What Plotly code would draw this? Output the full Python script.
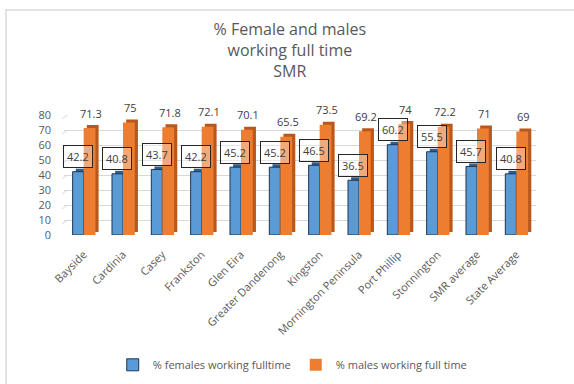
import plotly.graph_objects as go

# Council areas and full-time employment shares (%)
areas = ["Bayside", "Cardinia", "Casey", "Frankston", "Glen Eira",
         "Greater Dandenong", "Kingston", "Mornington Peninsula",
         "Port Phillip", "Stonnington", "SMR average", "State Average"]
females = [42.2, 40.8, 43.7, 42.2, 45.2, 45.2, 46.5, 36.5, 60.2, 55.5, 45.7, 40.8]
males = [71.3, 75, 71.8, 72.1, 70.1, 65.5, 73.5, 69.2, 74, 72.2, 71, 69]
y_ticks = [0, 10, 20, 30, 40, 50, 60, 70, 80]

FONT = "Open Sans"
GREY = "#595959"
BLUE, BLUE_DARK, BLUE_EDGE = "#5B9BD5", "#2E5F8F", "#1F3550"
ORANGE, ORANGE_DARK = "#ED7D31", "#B9581A"

xs = list(range(len(areas)))
w_f, off_f = 0.28, -0.28
w_m, off_m = 0.30, 0.0
dx, dy = 0.08, 2.0   # depth of the pseudo-3D side faces

fig = go.Figure()

# depth faces (drawn behind the fronts)
fig.add_trace(go.Bar(x=xs, y=females, base=dy, width=w_f, offset=off_f + dx,
                     marker=dict(color=BLUE_DARK, line=dict(width=0)),
                     showlegend=False, hoverinfo="skip"))
fig.add_trace(go.Bar(x=xs, y=males, base=dy, width=w_m, offset=off_m + dx,
                     marker=dict(color=ORANGE_DARK, line=dict(width=0)),
                     showlegend=False, hoverinfo="skip"))

# front faces
fig.add_trace(go.Bar(x=xs, y=females, width=w_f, offset=off_f,
                     name="% females working fulltime",
                     marker=dict(color=BLUE, line=dict(color=BLUE_EDGE, width=1))))
fig.add_trace(go.Bar(x=xs, y=males, width=w_m, offset=off_m,
                     name="% males working full time",
                     marker=dict(color=ORANGE, line=dict(width=0))))

annotations = []
for i, (f, m) in enumerate(zip(females, males)):
    annotations.append(dict(x=i + off_m + w_m / 2 + dx / 2, y=m, xref="x", yref="y",
                            text=f"{m:g}", showarrow=False, yshift=15,
                            font=dict(family=FONT, size=11, color="#404040")))
    annotations.append(dict(x=i + off_f + w_f / 2, y=f, xref="x", yref="y",
                            text=f"{f:g}", showarrow=False, yshift=15,
                            bordercolor="#262626", borderwidth=1, borderpad=3,
                            bgcolor="rgba(255,255,255,0.35)",
                            font=dict(family=FONT, size=11, color="#404040")))

# side-wall edges meeting the back-wall gridlines
shapes = []
for v in y_ticks:
    shapes.append(dict(type="line", xref="paper", yref="y", x0=-0.004, x1=0.008,
                       y0=v - 2.5, y1=v, line=dict(color="#D9D9D9", width=1)))
# chart frame (left and top edges visible)
shapes.append(dict(type="rect", xref="paper", yref="paper",
                   x0=(6 - 64) / 472, x1=(600 - 64) / 472,
                   y0=(235 - 420) / 120, y1=(235 - 10) / 120,
                   line=dict(color="#E3E3E3", width=2), layer="below"))

fig.update_layout(
    width=574, height=384,
    margin=dict(l=64, r=38, t=115, b=149),
    paper_bgcolor="white", plot_bgcolor="white",
    barmode="overlay",
    font=dict(family=FONT, color=GREY),
    title=dict(text="% Female and males<br>working full time<br>SMR",
               x=0.505, xref="container", xanchor="center",
               y=1 - 35 / 384, yref="container", yanchor="top",
               font=dict(family=FONT, size=16, color=GREY)),
    xaxis=dict(tickmode="array", tickvals=xs, ticktext=areas, tickangle=-45,
               range=[-0.5, len(areas) - 0.5], showgrid=False, zeroline=False,
               showline=False, ticks="", ticklabelstandoff=10,
               tickfont=dict(family=FONT, size=11, color=GREY)),
    yaxis=dict(range=[0, 80], tickvals=y_ticks, showgrid=True, gridcolor="#D9D9D9",
               gridwidth=1, zeroline=False, showline=False, ticks="",
               ticklabelstandoff=12, tickfont=dict(family=FONT, size=11, color=GREY)),
    legend=dict(orientation="h", xref="container", yref="container",
                x=0.51, xanchor="center", y=0.05, yanchor="middle",
                font=dict(family=FONT, size=11, color=GREY), traceorder="normal"),
    annotations=annotations,
    shapes=shapes,
)

fig.write_html("out.html")
